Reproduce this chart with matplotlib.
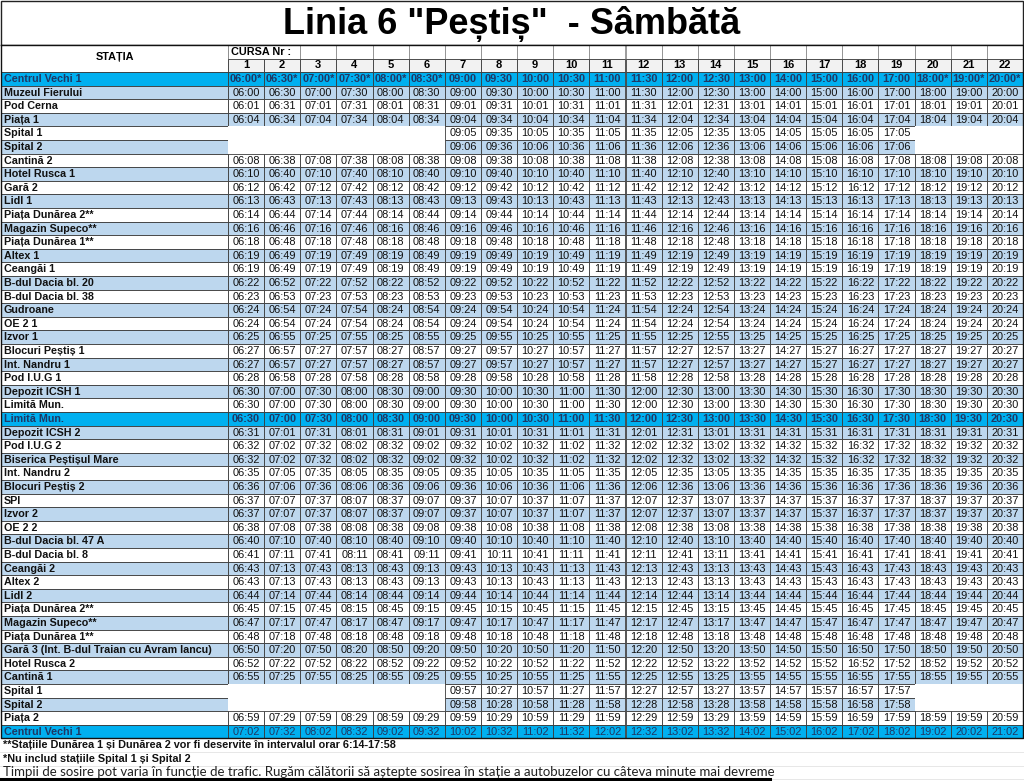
import matplotlib.pyplot as plt
from matplotlib.patches import Rectangle

plt.rcParams['font.family'] = ['Liberation Sans', 'DejaVu Sans']

title = 'Linia 6 "Peștiș"  - Sâmbătă'
header_station = 'STAȚIA'
header_cursa = 'CURSA Nr :'
curse = ['1', '2', '3', '4', '5', '6', '7', '8', '9', '10', '11',
         '12', '13', '14', '15', '16', '17', '18', '19', '20', '21', '22']

stations = [
    'Centrul Vechi 1', 'Muzeul Fierului', 'Pod Cerna', 'Piața 1', 'Spital 1',
    'Spital 2', 'Cantină 2', 'Hotel Rusca 1', 'Gară 2', 'Lidl 1',
    'Piața Dunărea 2**', 'Magazin Supeco**', 'Piața Dunărea 1**', 'Altex 1',
    'Ceangăi 1', 'B-dul Dacia bl. 20', 'B-dul Dacia bl. 38', 'Gudroane',
    'OE 2 1', 'Izvor 1', 'Blocuri Peștiș 1', 'Int. Nandru 1', 'Pod I.U.G 1',
    'Depozit ICSH 1', 'Limită Mun.', 'Limită Mun.', 'Depozit ICSH 2',
    'Pod I.U.G 2', 'Biserica Peștișul Mare', 'Int. Nandru 2',
    'Blocuri Peștiș 2', 'SPI', 'Izvor 2', 'OE 2 2', 'B-dul Dacia bl. 47 A',
    'B-dul Dacia bl. 8', 'Ceangăi 2', 'Altex 2', 'Lidl 2', 'Piața Dunărea 2**',
    'Magazin Supeco**', 'Piața Dunărea 1**',
    'Gară 3 (Int. B-dul Traian cu Avram Iancu)', 'Hotel Rusca 2', 'Cantină 1',
    'Spital 1', 'Spital 2', 'Piața 2', 'Centrul Vechi 1',
]

# '-' = no stop
times = [
    "06:00* 06:30* 07:00* 07:30* 08:00* 08:30* 09:00 09:30 10:00 10:30 11:00 11:30 12:00 12:30 13:00 14:00 15:00 16:00 17:00 18:00* 19:00* 20:00*",
    "06:00 06:30 07:00 07:30 08:00 08:30 09:00 09:30 10:00 10:30 11:00 11:30 12:00 12:30 13:00 14:00 15:00 16:00 17:00 18:00 19:00 20:00",
    "06:01 06:31 07:01 07:31 08:01 08:31 09:01 09:31 10:01 10:31 11:01 11:31 12:01 12:31 13:01 14:01 15:01 16:01 17:01 18:01 19:01 20:01",
    "06:04 06:34 07:04 07:34 08:04 08:34 09:04 09:34 10:04 10:34 11:04 11:34 12:04 12:34 13:04 14:04 15:04 16:04 17:04 18:04 19:04 20:04",
    "- - - - - - 09:05 09:35 10:05 10:35 11:05 11:35 12:05 12:35 13:05 14:05 15:05 16:05 17:05 - - -",
    "- - - - - - 09:06 09:36 10:06 10:36 11:06 11:36 12:06 12:36 13:06 14:06 15:06 16:06 17:06 - - -",
    "06:08 06:38 07:08 07:38 08:08 08:38 09:08 09:38 10:08 10:38 11:08 11:38 12:08 12:38 13:08 14:08 15:08 16:08 17:08 18:08 19:08 20:08",
    "06:10 06:40 07:10 07:40 08:10 08:40 09:10 09:40 10:10 10:40 11:10 11:40 12:10 12:40 13:10 14:10 15:10 16:10 17:10 18:10 19:10 20:10",
    "06:12 06:42 07:12 07:42 08:12 08:42 09:12 09:42 10:12 10:42 11:12 11:42 12:12 12:42 13:12 14:12 15:12 16:12 17:12 18:12 19:12 20:12",
    "06:13 06:43 07:13 07:43 08:13 08:43 09:13 09:43 10:13 10:43 11:13 11:43 12:13 12:43 13:13 14:13 15:13 16:13 17:13 18:13 19:13 20:13",
    "06:14 06:44 07:14 07:44 08:14 08:44 09:14 09:44 10:14 10:44 11:14 11:44 12:14 12:44 13:14 14:14 15:14 16:14 17:14 18:14 19:14 20:14",
    "06:16 06:46 07:16 07:46 08:16 08:46 09:16 09:46 10:16 10:46 11:16 11:46 12:16 12:46 13:16 14:16 15:16 16:16 17:16 18:16 19:16 20:16",
    "06:18 06:48 07:18 07:48 08:18 08:48 09:18 09:48 10:18 10:48 11:18 11:48 12:18 12:48 13:18 14:18 15:18 16:18 17:18 18:18 19:18 20:18",
    "06:19 06:49 07:19 07:49 08:19 08:49 09:19 09:49 10:19 10:49 11:19 11:49 12:19 12:49 13:19 14:19 15:19 16:19 17:19 18:19 19:19 20:19",
    "06:19 06:49 07:19 07:49 08:19 08:49 09:19 09:49 10:19 10:49 11:19 11:49 12:19 12:49 13:19 14:19 15:19 16:19 17:19 18:19 19:19 20:19",
    "06:22 06:52 07:22 07:52 08:22 08:52 09:22 09:52 10:22 10:52 11:22 11:52 12:22 12:52 13:22 14:22 15:22 16:22 17:22 18:22 19:22 20:22",
    "06:23 06:53 07:23 07:53 08:23 08:53 09:23 09:53 10:23 10:53 11:23 11:53 12:23 12:53 13:23 14:23 15:23 16:23 17:23 18:23 19:23 20:23",
    "06:24 06:54 07:24 07:54 08:24 08:54 09:24 09:54 10:24 10:54 11:24 11:54 12:24 12:54 13:24 14:24 15:24 16:24 17:24 18:24 19:24 20:24",
    "06:24 06:54 07:24 07:54 08:24 08:54 09:24 09:54 10:24 10:54 11:24 11:54 12:24 12:54 13:24 14:24 15:24 16:24 17:24 18:24 19:24 20:24",
    "06:25 06:55 07:25 07:55 08:25 08:55 09:25 09:55 10:25 10:55 11:25 11:55 12:25 12:55 13:25 14:25 15:25 16:25 17:25 18:25 19:25 20:25",
    "06:27 06:57 07:27 07:57 08:27 08:57 09:27 09:57 10:27 10:57 11:27 11:57 12:27 12:57 13:27 14:27 15:27 16:27 17:27 18:27 19:27 20:27",
    "06:27 06:57 07:27 07:57 08:27 08:57 09:27 09:57 10:27 10:57 11:27 11:57 12:27 12:57 13:27 14:27 15:27 16:27 17:27 18:27 19:27 20:27",
    "06:28 06:58 07:28 07:58 08:28 08:58 09:28 09:58 10:28 10:58 11:28 11:58 12:28 12:58 13:28 14:28 15:28 16:28 17:28 18:28 19:28 20:28",
    "06:30 07:00 07:30 08:00 08:30 09:00 09:30 10:00 10:30 11:00 11:30 12:00 12:30 13:00 13:30 14:30 15:30 16:30 17:30 18:30 19:30 20:30",
    "06:30 07:00 07:30 08:00 08:30 09:00 09:30 10:00 10:30 11:00 11:30 12:00 12:30 13:00 13:30 14:30 15:30 16:30 17:30 18:30 19:30 20:30",
    "06:30 07:00 07:30 08:00 08:30 09:00 09:30 10:00 10:30 11:00 11:30 12:00 12:30 13:00 13:30 14:30 15:30 16:30 17:30 18:30 19:30 20:30",
    "06:31 07:01 07:31 08:01 08:31 09:01 09:31 10:01 10:31 11:01 11:31 12:01 12:31 13:01 13:31 14:31 15:31 16:31 17:31 18:31 19:31 20:31",
    "06:32 07:02 07:32 08:02 08:32 09:02 09:32 10:02 10:32 11:02 11:32 12:02 12:32 13:02 13:32 14:32 15:32 16:32 17:32 18:32 19:32 20:32",
    "06:32 07:02 07:32 08:02 08:32 09:02 09:32 10:02 10:32 11:02 11:32 12:02 12:32 13:02 13:32 14:32 15:32 16:32 17:32 18:32 19:32 20:32",
    "06:35 07:05 07:35 08:05 08:35 09:05 09:35 10:05 10:35 11:05 11:35 12:05 12:35 13:05 13:35 14:35 15:35 16:35 17:35 18:35 19:35 20:35",
    "06:36 07:06 07:36 08:06 08:36 09:06 09:36 10:06 10:36 11:06 11:36 12:06 12:36 13:06 13:36 14:36 15:36 16:36 17:36 18:36 19:36 20:36",
    "06:37 07:07 07:37 08:07 08:37 09:07 09:37 10:07 10:37 11:07 11:37 12:07 12:37 13:07 13:37 14:37 15:37 16:37 17:37 18:37 19:37 20:37",
    "06:37 07:07 07:37 08:07 08:37 09:07 09:37 10:07 10:37 11:07 11:37 12:07 12:37 13:07 13:37 14:37 15:37 16:37 17:37 18:37 19:37 20:37",
    "06:38 07:08 07:38 08:08 08:38 09:08 09:38 10:08 10:38 11:08 11:38 12:08 12:38 13:08 13:38 14:38 15:38 16:38 17:38 18:38 19:38 20:38",
    "06:40 07:10 07:40 08:10 08:40 09:10 09:40 10:10 10:40 11:10 11:40 12:10 12:40 13:10 13:40 14:40 15:40 16:40 17:40 18:40 19:40 20:40",
    "06:41 07:11 07:41 08:11 08:41 09:11 09:41 10:11 10:41 11:11 11:41 12:11 12:41 13:11 13:41 14:41 15:41 16:41 17:41 18:41 19:41 20:41",
    "06:43 07:13 07:43 08:13 08:43 09:13 09:43 10:13 10:43 11:13 11:43 12:13 12:43 13:13 13:43 14:43 15:43 16:43 17:43 18:43 19:43 20:43",
    "06:43 07:13 07:43 08:13 08:43 09:13 09:43 10:13 10:43 11:13 11:43 12:13 12:43 13:13 13:43 14:43 15:43 16:43 17:43 18:43 19:43 20:43",
    "06:44 07:14 07:44 08:14 08:44 09:14 09:44 10:14 10:44 11:14 11:44 12:14 12:44 13:14 13:44 14:44 15:44 16:44 17:44 18:44 19:44 20:44",
    "06:45 07:15 07:45 08:15 08:45 09:15 09:45 10:15 10:45 11:15 11:45 12:15 12:45 13:15 13:45 14:45 15:45 16:45 17:45 18:45 19:45 20:45",
    "06:47 07:17 07:47 08:17 08:47 09:17 09:47 10:17 10:47 11:17 11:47 12:17 12:47 13:17 13:47 14:47 15:47 16:47 17:47 18:47 19:47 20:47",
    "06:48 07:18 07:48 08:18 08:48 09:18 09:48 10:18 10:48 11:18 11:48 12:18 12:48 13:18 13:48 14:48 15:48 16:48 17:48 18:48 19:48 20:48",
    "06:50 07:20 07:50 08:20 08:50 09:20 09:50 10:20 10:50 11:20 11:50 12:20 12:50 13:20 13:50 14:50 15:50 16:50 17:50 18:50 19:50 20:50",
    "06:52 07:22 07:52 08:22 08:52 09:22 09:52 10:22 10:52 11:22 11:52 12:22 12:52 13:22 13:52 14:52 15:52 16:52 17:52 18:52 19:52 20:52",
    "06:55 07:25 07:55 08:25 08:55 09:25 09:55 10:25 10:55 11:25 11:55 12:25 12:55 13:25 13:55 14:55 15:55 16:55 17:55 18:55 19:55 20:55",
    "- - - - - - 09:57 10:27 10:57 11:27 11:57 12:27 12:57 13:27 13:57 14:57 15:57 16:57 17:57 - - -",
    "- - - - - - 09:58 10:28 10:58 11:28 11:58 12:28 12:58 13:28 13:58 14:58 15:58 16:58 17:58 - - -",
    "06:59 07:29 07:59 08:29 08:59 09:29 09:59 10:29 10:59 11:29 11:59 12:29 12:59 13:29 13:59 14:59 15:59 16:59 17:59 18:59 19:59 20:59",
    "07:02 07:32 08:02 08:32 09:02 09:32 10:02 10:32 11:02 11:32 12:02 12:32 13:02 13:32 14:02 15:02 16:02 17:02 18:02 19:02 20:02 21:02",
]

highlight_rows = [0, 25, 48]
bold_time_rows = [0, 25]

notes = [
    '**Stațiile Dunărea 1 și Dunărea 2 vor fi deservite în intervalul orar 6:14-17:58',
    '*Nu includ stațiile Spital 1 și Spital 2',
    'Timpii de sosire pot varia în funcție de trafic. Rugăm călătorii să aștepte sosirea în stație a autobuzelor cu câteva minute mai devreme',
]

# colours
HL = '#00b0f0'
STRIPE = '#bdd7ee'
HDR = '#f2f2f2'
LINE = '#3a3a3a'
NAVY = '#1f3864'

# layout (pixels)
W, H = 1024, 781
x_st0, x_st1, x_end = 1, 228, 1023
ncol = len(curse)
cw = (x_end - x_st1) / ncol
y_title = 45
y_h1 = 58.5
y_top = 72
rh = 13.6

fig = plt.figure(figsize=(W / 100, H / 100), dpi=100)
ax = fig.add_axes([0, 0, 1, 1])
ax.set_xlim(0, W)
ax.set_ylim(H, 0)
ax.axis('off')


def cell(x, y, w, h, fc, ec=LINE, lw=0.6):
    ax.add_patch(Rectangle((x, y), w, h, facecolor=fc, edgecolor=ec, lw=lw))


# title
cell(x_st0, 0.5, x_end - x_st0, y_title - 0.5, 'white', ec='#222222', lw=1.0)
ax.text(W / 2, 24, title, ha='center', va='center', fontsize=26,
        fontweight='bold', color='black')

# header
cell(x_st0, y_title, x_st1 - x_st0, y_top - y_title, 'white')
ax.text((x_st0 + x_st1) / 2, (y_title + y_top) / 2 - 1, header_station,
        ha='center', va='center', fontsize=7.8, fontweight='bold')
cell(x_st1, y_title, 2 * cw, y_h1 - y_title, 'white', ec='#8c8c8c')
for j in range(2, ncol):
    cell(x_st1 + j * cw, y_title, cw, y_h1 - y_title, 'white', ec='#8c8c8c')
ax.text(x_st1 + 3, (y_title + y_h1) / 2, header_cursa, ha='left',
        va='center', fontsize=7.8, fontweight='bold')
for j, c in enumerate(curse):
    cell(x_st1 + j * cw, y_h1, cw, y_top - y_h1, HDR)
    ax.text(x_st1 + (j + 0.5) * cw, (y_h1 + y_top) / 2, c, ha='center',
            va='center', fontsize=8, fontweight='bold')

# body
k = 0
for i, (name, row) in enumerate(zip(stations, times)):
    y = y_top + i * rh
    yc = y + rh / 2 + 0.3
    if i in highlight_rows:
        bg = HL
        k = 0
    else:
        k += 1
        bg = STRIPE if k % 2 == 1 else 'white'
    tc = NAVY if i in highlight_rows else '#111111'
    cell(x_st0, y, x_st1 - x_st0, rh, bg)
    ax.text(x_st0 + 3, yc, name, ha='left', va='center', fontsize=7.75,
            fontweight='bold', color=tc)
    vals = row.split()
    for j, v in enumerate(vals):
        x = x_st1 + j * cw
        if v == '-':
            ax.add_patch(Rectangle((x, y), cw, rh, facecolor='white',
                                   edgecolor='none'))
            continue
        cell(x, y, cw, rh, bg)
        ax.text(x + cw / 2, yc, v, ha='center', va='center', fontsize=7.9,
                fontweight='bold' if i in bold_time_rows else 'normal',
                color=tc)

y_body_end = y_top + len(stations) * rh
ax.plot([x_st0, x_end, x_end, x_st0, x_st0],
        [y_title, y_title, y_body_end, y_body_end, y_title],
        color='#111111', lw=1.0)

# footnotes
for n, t in enumerate(notes):
    y = y_body_end + n * rh
    ax.plot([0, W], [y + rh, y + rh], color='#e3e3e3', lw=0.6)
    if n < 2:
        ax.text(x_st0 + 2, y + rh / 2, t, ha='left', va='center',
                fontsize=7.85, fontweight='bold', color='#111111')
    else:
        ax.text(x_st0 + 2, y + rh / 2, t, ha='left', va='center',
                fontsize=9.55, color='#222222', family=['Lato', 'DejaVu Sans'])
ax.plot([0, 770], [H - 2, H - 2], color='black', lw=2.2)

fig.savefig('out.png', dpi=100)
